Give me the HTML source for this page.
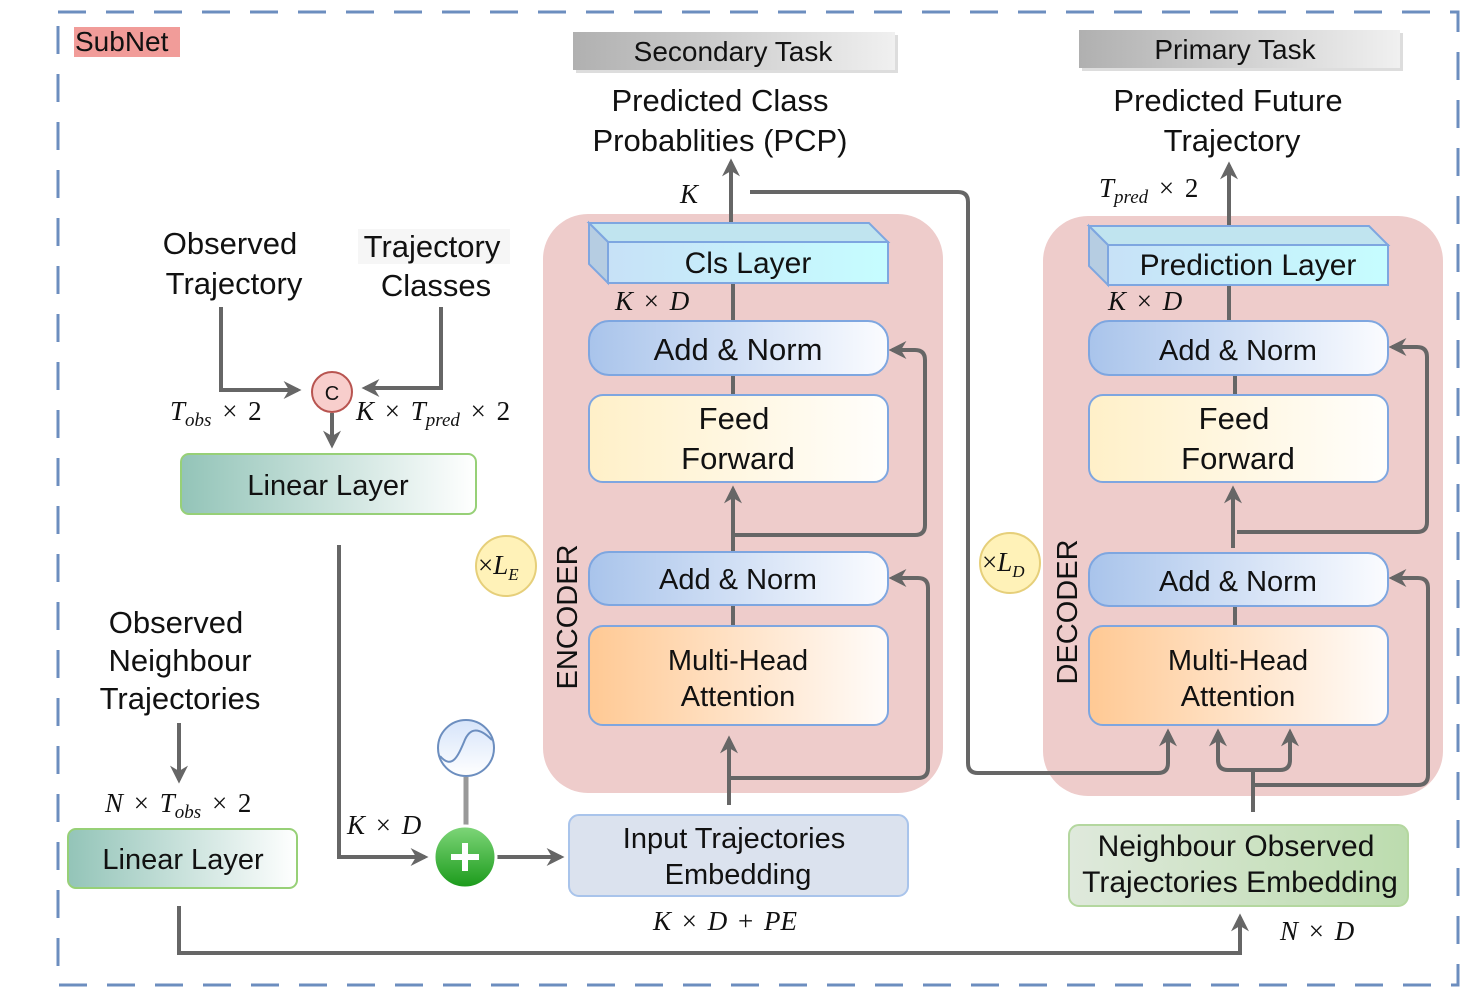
<!DOCTYPE html>
<html><head><meta charset="utf-8"><style>
html,body{margin:0;padding:0;background:#fff;}
svg text{font-family:"Liberation Sans",sans-serif;fill:#111;}
.m{font-family:"Liberation Serif",serif;font-style:italic;font-size:27px;word-spacing:4px;}
.n{font-style:normal;}
</style></head><body>
<svg width="1472" height="1000" viewBox="0 0 1472 1000" xmlns="http://www.w3.org/2000/svg">
<defs>
<linearGradient id="an" x1="0" x2="1"><stop offset="0" stop-color="#a9c4eb"/><stop offset="1" stop-color="#fbfcff"/></linearGradient>
<linearGradient id="ff" x1="0" x2="1"><stop offset="0" stop-color="#fff0c8"/><stop offset="1" stop-color="#fffefc"/></linearGradient>
<linearGradient id="mh" x1="0" x2="1"><stop offset="0" stop-color="#ffc994"/><stop offset="1" stop-color="#fffcfa"/></linearGradient>
<linearGradient id="cl" x1="0" x2="1"><stop offset="0" stop-color="#c7e1f7"/><stop offset="1" stop-color="#c6fdff"/></linearGradient>
<linearGradient id="ll" x1="0" x2="1"><stop offset="0" stop-color="#93c4b8"/><stop offset="1" stop-color="#ffffff"/></linearGradient>
<linearGradient id="gt" x1="0" x2="1"><stop offset="0" stop-color="#b0b0b0"/><stop offset="1" stop-color="#f0f0f0"/></linearGradient>
<linearGradient id="ng" x1="0" x2="1"><stop offset="0" stop-color="#dfe9dc"/><stop offset="1" stop-color="#bcdcae"/></linearGradient>
<linearGradient id="pl" x1="0" y1="0" x2="0" y2="1"><stop offset="0" stop-color="#7fd67a"/><stop offset="1" stop-color="#1a9a1a"/></linearGradient>
<linearGradient id="sn" x1="0" y1="0" x2="0" y2="1"><stop offset="0" stop-color="#d6e4fa"/><stop offset="1" stop-color="#ffffff"/></linearGradient>
<marker id="a" viewBox="0 0 10 10" refX="8" refY="5" markerWidth="4.5" markerHeight="4.5" orient="auto-start-reverse"><path d="M0,0 L10,5 L0,10 L3,5 z" fill="#666"/></marker>
</defs>
<rect x="58" y="12" width="1400" height="973" fill="none" stroke="#6c8ebf" stroke-width="3" stroke-dasharray="28,20"/>
<rect x="74" y="27" width="106" height="30" fill="#f19c99"/>
<text x="75" y="51" font-size="28">SubNet</text>

<rect x="576" y="35" width="322" height="38" fill="#ddd"/>
<rect x="573" y="32" width="322" height="38" fill="url(#gt)"/>
<text x="733" y="61" font-size="28" text-anchor="middle">Secondary Task</text>
<rect x="1082" y="33" width="321" height="38" fill="#ddd"/>
<rect x="1079" y="30" width="321" height="38" fill="url(#gt)"/>
<text x="1235" y="59" font-size="28" text-anchor="middle">Primary Task</text>
<text x="720" y="111" font-size="31" text-anchor="middle">Predicted Class</text>
<text x="720" y="151" font-size="31" text-anchor="middle">Probablities (PCP)</text>
<text x="1228" y="111" font-size="31" text-anchor="middle">Predicted Future</text>
<text x="1232" y="151" font-size="31" text-anchor="middle">Trajectory</text>

<rect x="543" y="214" width="400" height="579" rx="45" fill="#eecccb"/>
<rect x="1043" y="216" width="400" height="580" rx="45" fill="#eecccb"/>

<g stroke="#666" stroke-width="4" fill="none">
<line x1="733" y1="283" x2="733" y2="321"/><line x1="733" y1="375" x2="733" y2="395"/><line x1="733" y1="605" x2="733" y2="626"/>
<line x1="1229" y1="285" x2="1229" y2="321"/><line x1="1235" y1="375" x2="1235" y2="395"/><line x1="1235" y1="605" x2="1235" y2="626"/>
<line x1="731" y1="222" x2="731" y2="162" marker-end="url(#a)"/>
<line x1="1229" y1="226" x2="1229" y2="165" marker-end="url(#a)"/>
<line x1="733" y1="552" x2="733" y2="489" marker-end="url(#a)"/>
<path d="M733,535 H915 Q925,535 925,525 V360 Q925,350 915,350 H892" marker-end="url(#a)"/>
<line x1="729" y1="805" x2="729" y2="739" marker-end="url(#a)"/>
<path d="M729,778 H918 Q928,778 928,768 V588 Q928,578 918,578 H892" marker-end="url(#a)"/>
<path d="M750,192 H958 Q968,192 968,202 V763 Q968,773 978,773 H1158 Q1168,773 1168,763 V732" marker-end="url(#a)"/>
<line x1="1233" y1="548" x2="1233" y2="489" marker-end="url(#a)"/>
<path d="M1237,532 H1417 Q1427,532 1427,522 V357 Q1427,347 1417,347 H1392" marker-end="url(#a)"/>
<path d="M1253,812 V770 M1218,732 V760 Q1218,770 1228,770 H1280 Q1290,770 1290,760 V732" />
<line x1="1218" y1="760" x2="1218" y2="732" marker-end="url(#a)"/>
<line x1="1290" y1="760" x2="1290" y2="732" marker-end="url(#a)"/>
<path d="M1253,785 H1418 Q1428,785 1428,775 V588 Q1428,578 1418,578 H1392" marker-end="url(#a)"/>
<path d="M221,307 V390 H298" marker-end="url(#a)"/>
<path d="M441,307 V388 H365" marker-end="url(#a)"/>
<line x1="332" y1="413" x2="332" y2="445" marker-end="url(#a)"/>
<path d="M339,545 V857 H425" marker-end="url(#a)"/>
<line x1="497" y1="857" x2="561" y2="857" marker-end="url(#a)"/>
<line x1="179" y1="723" x2="179" y2="780" marker-end="url(#a)"/>
<path d="M179,906 V953 H1240 V917" marker-end="url(#a)"/>
</g>
<line x1="466" y1="777" x2="466" y2="828" stroke="#999" stroke-width="5"/>

<polygon points="589,223 869,223 888,242 608,242" fill="#c0e4ef" stroke="#7ea6e0" stroke-width="2"/>
<polygon points="589,223 608,242 608,283 589,264" fill="#b6cde2" stroke="#7ea6e0" stroke-width="2"/>
<rect x="608" y="242" width="280" height="41" fill="url(#cl)" stroke="#7ea6e0" stroke-width="2"/>
<text x="748" y="273" font-size="30" text-anchor="middle">Cls Layer</text>
<rect x="589" y="321" width="299" height="54" rx="20" fill="url(#an)" stroke="#7ea6e0" stroke-width="2"/>
<text x="738" y="360" font-size="31" text-anchor="middle">Add &amp; Norm</text>
<rect x="589" y="395" width="299" height="87" rx="14" fill="url(#ff)" stroke="#7ea6e0" stroke-width="2"/>
<text x="734" y="429" font-size="31" text-anchor="middle">Feed</text>
<text x="738" y="469" font-size="31" text-anchor="middle">Forward</text>
<rect x="589" y="552" width="299" height="53" rx="20" fill="url(#an)" stroke="#7ea6e0" stroke-width="2"/>
<text x="738" y="589" font-size="29" text-anchor="middle">Add &amp; Norm</text>
<rect x="589" y="626" width="299" height="99" rx="14" fill="url(#mh)" stroke="#7ea6e0" stroke-width="2"/>
<text x="738" y="670" font-size="29" text-anchor="middle">Multi-Head</text>
<text x="738" y="706" font-size="29" text-anchor="middle">Attention</text>
<text transform="translate(577,617) rotate(-90)" font-size="29" text-anchor="middle">ENCODER</text>

<polygon points="1089,226 1369,226 1388,245 1108,245" fill="#c0e4ef" stroke="#7ea6e0" stroke-width="2"/>
<polygon points="1089,226 1108,245 1108,285 1089,266" fill="#b6cde2" stroke="#7ea6e0" stroke-width="2"/>
<rect x="1108" y="245" width="280" height="40" fill="url(#cl)" stroke="#7ea6e0" stroke-width="2"/>
<text x="1248" y="275" font-size="30" text-anchor="middle">Prediction Layer</text>
<rect x="1089" y="321" width="299" height="54" rx="20" fill="url(#an)" stroke="#7ea6e0" stroke-width="2"/>
<text x="1238" y="360" font-size="29" text-anchor="middle">Add &amp; Norm</text>
<rect x="1089" y="395" width="299" height="87" rx="14" fill="url(#ff)" stroke="#7ea6e0" stroke-width="2"/>
<text x="1234" y="429" font-size="31" text-anchor="middle">Feed</text>
<text x="1238" y="469" font-size="31" text-anchor="middle">Forward</text>
<rect x="1089" y="553" width="299" height="53" rx="20" fill="url(#an)" stroke="#7ea6e0" stroke-width="2"/>
<text x="1238" y="591" font-size="29" text-anchor="middle">Add &amp; Norm</text>
<rect x="1089" y="626" width="299" height="99" rx="14" fill="url(#mh)" stroke="#7ea6e0" stroke-width="2"/>
<text x="1238" y="670" font-size="29" text-anchor="middle">Multi-Head</text>
<text x="1238" y="706" font-size="29" text-anchor="middle">Attention</text>
<text transform="translate(1077,612) rotate(-90)" font-size="29" text-anchor="middle">DECODER</text>

<rect x="569" y="815" width="339" height="81" rx="10" fill="#dbe2ee" stroke="#a9c4eb" stroke-width="2"/>
<text x="734" y="848" font-size="29" text-anchor="middle">Input Trajectories</text>
<text x="738" y="884" font-size="29" text-anchor="middle">Embedding</text>
<rect x="1069" y="825" width="339" height="81" rx="10" fill="url(#ng)" stroke="#b4d79f" stroke-width="2"/>
<text x="1236" y="856" font-size="30" text-anchor="middle">Neighbour Observed</text>
<text x="1240" y="892" font-size="30" text-anchor="middle">Trajectories Embedding</text>

<text x="230" y="254" font-size="31" text-anchor="middle">Observed</text>
<text x="234" y="294" font-size="31" text-anchor="middle">Trajectory</text>
<rect x="358" y="229" width="152" height="35" fill="#f6f6f6"/>
<text x="432" y="257" font-size="31" text-anchor="middle">Trajectory</text>
<text x="436" y="296" font-size="31" text-anchor="middle">Classes</text>
<circle cx="332" cy="392" r="20" fill="#f8cecc" stroke="#b85450" stroke-width="2"/>
<text x="332" y="400" font-size="20" text-anchor="middle">C</text>
<rect x="181" y="454" width="295" height="60" rx="8" fill="url(#ll)" stroke="#97d077" stroke-width="2"/>
<text x="328" y="495" font-size="29" text-anchor="middle">Linear Layer</text>
<text x="176" y="633" font-size="31" text-anchor="middle">Observed</text>
<text x="180" y="671" font-size="31" text-anchor="middle">Neighbour</text>
<text x="180" y="709" font-size="31" text-anchor="middle">Trajectories</text>
<rect x="68" y="829" width="229" height="59" rx="8" fill="url(#ll)" stroke="#97d077" stroke-width="2"/>
<text x="183" y="869" font-size="29" text-anchor="middle">Linear Layer</text>

<circle cx="466" cy="748" r="28" fill="url(#sn)" stroke="#6c8ebf" stroke-width="2"/>
<path d="M440,756 C452,770 458,756 464,742 C470,726 480,728 492,740" fill="none" stroke="#6c8ebf" stroke-width="2"/>
<circle cx="465" cy="857" r="31" fill="url(#pl)" stroke="#fff" stroke-width="3"/>
<path d="M465,843 V871 M451,857 H479" stroke="#fff" stroke-width="6"/>

<circle cx="506" cy="566" r="30" fill="#fff2b8" stroke="#e6cf7a" stroke-width="2"/>
<text x="478" y="574" class="m n" font-size="26">×<tspan font-style="italic">L</tspan><tspan font-size="17" dy="6" font-style="italic">E</tspan></text>
<circle cx="1010" cy="563" r="30" fill="#fff2b8" stroke="#e6cf7a" stroke-width="2"/>
<text x="982" y="571" class="m n" font-size="26">×<tspan font-style="italic">L</tspan><tspan font-size="17" dy="6" font-style="italic">D</tspan></text>

<text x="170" y="420" class="m">T<tspan font-size="19" dy="6">obs</tspan><tspan class="n" dy="-6"> × 2</tspan></text>
<text x="356" y="420" class="m">K <tspan class="n">×</tspan> T<tspan font-size="19" dy="6">pred</tspan><tspan class="n" dy="-6"> × 2</tspan></text>
<text x="680" y="203" class="m">K</text>
<text x="615" y="310" class="m">K <tspan class="n">×</tspan> D</text>
<text x="1108" y="310" class="m">K <tspan class="n">×</tspan> D</text>
<text x="1099" y="197" class="m">T<tspan font-size="19" dy="6">pred</tspan><tspan class="n" dy="-6"> × 2</tspan></text>
<text x="105" y="812" class="m">N <tspan class="n">×</tspan> T<tspan font-size="19" dy="6">obs</tspan><tspan class="n" dy="-6"> × 2</tspan></text>
<text x="347" y="834" class="m">K <tspan class="n">×</tspan> D</text>
<text x="653" y="930" class="m">K <tspan class="n">×</tspan> D <tspan class="n">+</tspan> PE</text>
<text x="1280" y="940" class="m">N <tspan class="n">×</tspan> D</text>
</svg>
</body></html>
